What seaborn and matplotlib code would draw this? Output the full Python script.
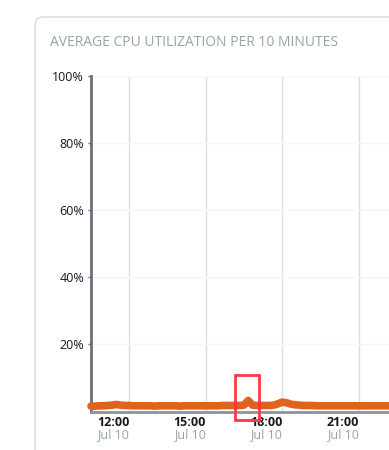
import matplotlib
matplotlib.use("Agg")
import matplotlib.pyplot as plt
import matplotlib.dates as mdates
from matplotlib.patches import FancyBboxPatch, Rectangle
import seaborn as sns
import pandas as pd
import numpy as np

sns.set_theme(style="white")
plt.rcParams['font.family'] = ['Open Sans', 'DejaVu Sans']

# ---- data ----
start_time = "2023-07-10 10:30"
interval = "10min"
cpu_pct = [
    1.6, 1.6, 1.7, 1.7, 1.8, 1.9,
    2.1,
    1.9, 1.8, 1.8, 1.7, 1.7, 1.7,
    1.7, 1.7, 1.6, 1.7, 1.7, 1.7, 1.7, 1.7, 1.6, 1.7, 1.7, 1.7,
    1.7, 1.7, 1.7, 1.7, 1.7, 1.7, 1.8, 1.8, 1.8, 1.8, 1.8,
    1.9,
    3.3,
    1.9,
    1.8, 1.8, 1.8, 1.8, 1.9,
    2.3,
    2.8,
    2.6,
    2.2,
    2.0, 1.9, 1.8, 1.8, 1.8, 1.7, 1.7, 1.7, 1.7, 1.7, 1.7, 1.7,
    1.7, 1.7, 1.7, 1.7, 1.7, 1.7, 1.7, 1.7, 1.7, 1.7, 1.7, 1.7, 1.7,
]
tick_times = ["2023-07-10 12:00", "2023-07-10 15:00", "2023-07-10 18:00", "2023-07-10 21:00"]
tick_top = ["12:00", "15:00", "18:00", "21:00"]
tick_bottom = ["Jul 10", "Jul 10", "Jul 10", "Jul 10"]
y_ticks = [20, 40, 60, 80, 100]
y_labels = ["20%", "40%", "60%", "80%", "100%"]
highlight = ("2023-07-10 16:09", "2023-07-10 17:05", -2.5, 10.9)
title = "AVERAGE CPU UTILIZATION PER 10 MINUTES"

times = pd.date_range(start_time, periods=len(cpu_pct), freq=interval)
df = pd.DataFrame({"time": times, "cpu": cpu_pct})

W, H = 389, 450
fig = plt.figure(figsize=(W / 100, H / 100), dpi=100)
fig.patch.set_facecolor("white")

# card
card = FancyBboxPatch((35 / W, -0.2), 1.2, (1 - 17 / H) + 0.2,
                      boxstyle="round,pad=0,rounding_size=0.02",
                      transform=fig.transFigure, facecolor="none",
                      edgecolor="#d5dbdb", linewidth=1.0, zorder=-5)
fig.patches.append(card)
fig.text(50 / W, 1 - 43 / H, title, color="#95a5a6", fontsize=10,
         va="center", ha="left")

ax = fig.add_axes([91 / W, 1 - 411.5 / H, (397 - 91) / W, (411.5 - 76) / H])
ax.set_facecolor("none")

sns.lineplot(data=df, x="time", y="cpu", ax=ax, color="#e0621f",
             linewidth=5.5, solid_capstyle="round", solid_joinstyle="round",
             clip_on=False, zorder=5)

ax.set_xlim(times[0], times[-1])
ax.set_ylim(0, 100)
ax.set_xlabel("")
ax.set_ylabel("")

tick_dt = pd.to_datetime(tick_times)
ax.set_xticks(tick_dt)
ax.set_xticklabels(tick_top, fontsize=9, fontweight="bold", color="#16191f",
                   ha="right")
for t, lab in zip(tick_dt, tick_bottom):
    ax.annotate(lab, xy=(t, 0), xycoords=("data", "axes fraction"),
                xytext=(0, -23), textcoords="offset pixels",
                ha="right", va="center", fontsize=9, color="#95a5a6")
ax.set_yticks(y_ticks)
ax.set_yticklabels(y_labels, fontsize=9, color="#16191f")
ax.tick_params(axis="x", length=0, pad=3)
ax.tick_params(axis="y", length=2, width=1, color="#687078", pad=3, left=True)

ax.grid(axis="x", color="#dcdfe0", linewidth=1)
ax.grid(axis="y", color="#f4f5f5", linewidth=1)
ax.set_axisbelow(True)

for s in ["top", "right"]:
    ax.spines[s].set_visible(False)
ax.spines["left"].set_color("#687078")
ax.spines["left"].set_linewidth(2)
ax.spines["bottom"].set_color("#8d9396")
ax.spines["bottom"].set_linewidth(2)

x0 = mdates.date2num(pd.Timestamp(highlight[0]))
x1 = mdates.date2num(pd.Timestamp(highlight[1]))
rect = Rectangle((x0, highlight[2]), x1 - x0, highlight[3] - highlight[2],
                 fill=False, edgecolor="#ff3848", linewidth=2, clip_on=False,
                 zorder=10)
ax.add_patch(rect)

fig.savefig("out.png", dpi=100)
